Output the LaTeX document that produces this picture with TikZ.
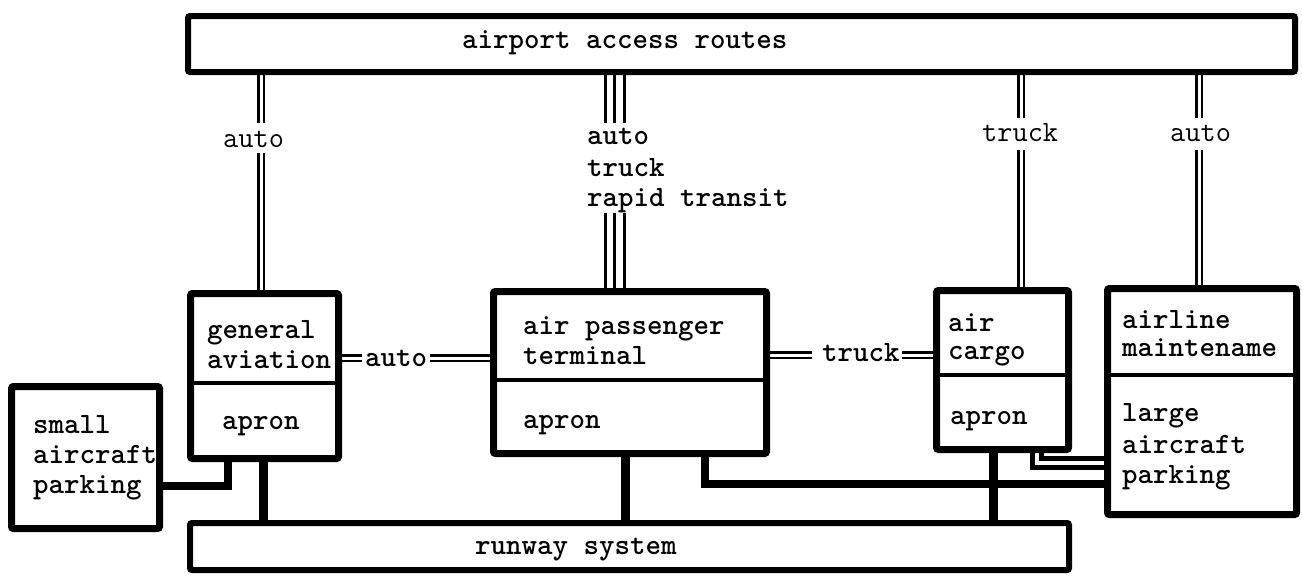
\documentclass[tikz,border=0pt]{standalone}
\usepackage{fontspec}
\pgfdeclarelayer{bg}
\pgfsetlayers{bg,main}
\tikzset{
  box/.style={draw, line width=7pt, fill=white, rounded corners=2pt, inner sep=0pt, outer sep=0pt},
  wbox/.style={box, line width=6pt},
  divider/.style={line width=4pt},
  txt/.style={anchor=base west, inner sep=0pt, font=\fontsize{29.5}{30}\selectfont\ttfamily\bfseries},
  ltxt/.style={anchor=base west, inner sep=0pt, font=\fontsize{29.5}{30}\selectfont\ttfamily},
  dbl/.style={double, double distance=3pt, line width=2.5pt},
  sgl/.style={line width=3pt},
  heavy/.style={line width=9pt},
  dblheavy/.style={double, double distance=4pt, line width=5pt},
}
\begin{document}
\begin{tikzpicture}[x=1pt,y=-1pt]
\useasboundingbox (0,0) rectangle (1302,579);
% boxes
\node[wbox, minimum width=1107pt, minimum height=56pt] (top) at (741.5,44) {};
\node[box, minimum width=148pt, minimum height=165pt] (ga) at (264.5,376) {};
\node[box, minimum width=148pt, minimum height=142pt] (small) at (85.5,457.5) {};
\node[box, minimum width=273pt, minimum height=162pt] (ter) at (630,372.5) {};
\node[box, minimum width=132pt, minimum height=159pt] (cargo) at (1002.5,370) {};
\node[box, minimum width=189pt, minimum height=226pt] (air) at (1202,401.5) {};
\node[wbox, minimum width=879pt, minimum height=47pt] (run) at (629.5,546.5) {};
% dividers
\coordinate (dga) at (0,383);
\coordinate (dter) at (0,380);
\coordinate (dcar) at (0,375);
\coordinate (dair) at (0,375);
\draw[divider] (ga.west |- dga) -- (ga.east |- dga);
\draw[divider] (ter.west |- dter) -- (ter.east |- dter);
\draw[divider] (cargo.west |- dcar) -- (cargo.east |- dcar);
\draw[divider] (air.west |- dair) -- (air.east |- dair);
% texts
\node[txt] (ttop) at (462,48) {airport access routes};
\node[txt] (tga1) at (207,338) {general};
\node[txt] (tga2) at (207,368) {aviation};
\node[txt] (tga3) at (222,429) {apron};
\node[txt] (tsm1) at (33,433) {small};
\node[txt] (tsm2) at (33,463) {aircraft};
\node[txt] (tsm3) at (33,493) {parking};
\node[txt] (tter1) at (523,334) {air passenger};
\node[txt] (tter2) at (523,364) {terminal};
\node[txt] (tter3) at (523,428) {apron};
\node[txt] (trun) at (475,554) {runway system};
\node[txt] (tcar1) at (948,331) {air};
\node[txt] (tcar2) at (948,359) {cargo};
\node[txt] (tcar3) at (950,424) {apron};
\node[txt] (tair1) at (1122,328) {airline};
\node[txt] (tair2) at (1122,356) {maintename};
\node[txt] (tair3) at (1122,421) {large};
\node[txt] (tair4) at (1122,453) {aircraft};
\node[txt] (tair5) at (1122,483) {parking};
% connector labels
\node[ltxt] (lga) at (223,147) {auto};
\node[txt] (lt1) at (587,144) {auto};
\node[txt] (lt2) at (587,176) {truck};
\node[txt] (lt3) at (587,206) {rapid transit};
\node[ltxt] (lcar) at (982,141) {truck};
\node[ltxt] (lair) at (1170,141) {auto};
\node[txt] (lmid1) at (365,366) {auto};
\node[txt] (lmid2) at (822,361) {truck};
% gap coordinates
\coordinate (g1a) at (261,123);
\coordinate (g1b) at (261,153);
\coordinate (g2a) at (614.5,123);
\coordinate (g2b) at (614.5,213);
\coordinate (g3a) at (1021,118);
\coordinate (g3b) at (1021,150);
\coordinate (g4a) at (1199,118);
\coordinate (g4b) at (1199,150);
\coordinate (h1a) at (362,358);
\coordinate (h1b) at (430,358);
\coordinate (h2a) at (812,355);
\coordinate (h2b) at (902,355);
\coordinate (c228) at (228,486);
\coordinate (c263) at (263,0);
\coordinate (c625) at (625,0);
\coordinate (c705) at (705,484);
\coordinate (c993) at (993,0);
\coordinate (c1037) at (1037,463);
\begin{pgfonlayer}{bg}
\draw[dbl] (top.south -| g1a) -- (g1a);
\draw[dbl] (g1b) -- (ga.north -| g1b);
\foreach \s in {-9.5,0,9.5}{
  \draw[sgl, transform canvas={xshift=\s pt}] (top.south -| g2a) -- (g2a);
  \draw[sgl, transform canvas={xshift=\s pt}] (g2b) -- (ter.north -| g2b);
}
\draw[dbl] (top.south -| g3a) -- (g3a);
\draw[dbl] (g3b) -- (cargo.north -| g3b);
\draw[dbl] (top.south -| g4a) -- (g4a);
\draw[dbl] (g4b) -- (air.north -| g4b);
\draw[dbl] (ga.east |- h1a) -- (h1a);
\draw[dbl] (h1b) -- (ter.west |- h1b);
\draw[dbl] (ter.east |- h2a) -- (h2a);
\draw[dbl] (h2b) -- (cargo.west |- h2b);
\draw[line width=8pt] (small.east |- c228) -| (ga.south -| c228);
\draw[heavy] (ga.south -| c263) -- (run.north -| c263);
\draw[heavy] (ter.south -| c625) -- (run.north -| c625);
\draw[line width=8pt] (ter.south -| c705) |- (air.west |- c705);
\draw[heavy] (cargo.south -| c993) -- (run.north -| c993);
\draw[dblheavy] (cargo.south -| c1037) |- (air.west |- c1037);
\end{pgfonlayer}
\end{tikzpicture}
\end{document}
